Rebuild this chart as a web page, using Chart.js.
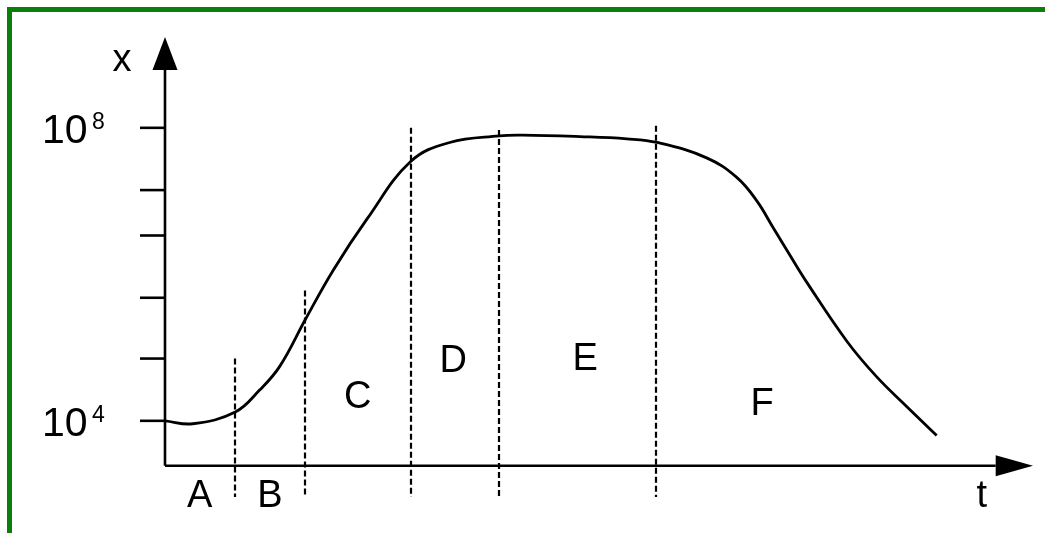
<!DOCTYPE html>
<html>
<head>
<meta charset="utf-8">
<title>Growth curve</title>
<script src="https://cdn.jsdelivr.net/npm/chart.js@4.4.1/dist/chart.umd.min.js"></script>
<style>
    body { margin: 0; background: #fff; }
    canvas { display: block; }
</style>
</head>
<body>
<canvas id="growthChart" width="1045" height="533"></canvas>
<script>
// Time (arbitrary units) and log10 of the population
const timeValues = [0, 3.2, 8.1, 10.9, 13.2, 16.2, 19.4, 23.3, 28.3, 32.8, 38.5, 41.2, 47.8, 53.2, 56.7, 62.4, 65.9, 68.2, 70.0, 72.0, 74.0, 78.6, 82.0, 85.5, 88.9];
const logCounts = [4.00, 3.96, 4.12, 4.42, 4.74, 5.39, 6.06, 6.76, 7.54, 7.80, 7.89, 7.90, 7.88, 7.85, 7.80, 7.59, 7.32, 7.00, 6.65, 6.26, 5.88, 5.08, 4.60, 4.19, 3.80];

// Tick marks on the x axis (log10 values); only 10^4 and 10^8 get labels
const tickValues = [4.0, 4.85, 5.68, 6.53, 7.15, 8.0];
const labelledTicks = [4, 8];

// Phase boundaries (time) and how high each dashed line reaches (log10)
const phaseBounds = [8.1, 16.1, 28.3, 38.5, 56.6];
const phaseTops = [4.85, 5.78, 8.0, 7.97, 8.03];

// Phase names with the point they are written at
const phaseNames = ['A', 'B', 'C', 'D', 'E', 'F'];
const phaseLabelT = [4.0, 12.1, 22.2, 33.2, 48.4, 68.8];
const phaseLabelY = [2.83, 2.83, 4.18, 4.67, 4.70, 4.08];

const Y_MIN = 2.96;
const Y_MAX = 9.24;
const AXIS_LEVEL = 3.386;   // where the time axis crosses
const ARROW_T = 95.7;       // start of the time arrow head
const ARROW_Y = 8.79;       // start of the x arrow head
const FONT = '"Liberation Sans", Arial, sans-serif';

const points = timeValues.map((t, i) => ({ x: t, y: logCounts[i] }));

// Frame, axes, ticks, phase lines and labels
const diagramPlugin = {
    id: 'diagram',
    beforeDraw(chart) {
        const c = chart.ctx;
        c.save();
        c.fillStyle = '#fff';
        c.fillRect(0, 0, chart.width, chart.height);
        c.fillStyle = '#0a800a';
        c.fillRect(7, 7, chart.width, 5);
        c.fillRect(7, 7, 5, chart.height);
        c.restore();
    },
    beforeDatasetsDraw(chart) {
        const c = chart.ctx;
        const xs = chart.scales.x;
        const ys = chart.scales.y;
        const x0 = xs.getPixelForValue(0);
        const yAxis = ys.getPixelForValue(AXIS_LEVEL);

        c.save();
        c.strokeStyle = '#000';
        c.fillStyle = '#000';

        // dashed phase boundaries
        c.lineWidth = 2.2;
        c.setLineDash([6, 3]);
        phaseBounds.forEach((t, i) => {
            const px = Math.round(xs.getPixelForValue(t));
            c.beginPath();
            c.moveTo(px, ys.getPixelForValue(phaseTops[i]));
            c.lineTo(px, ys.getPixelForValue(Y_MIN));
            c.stroke();
        });
        c.setLineDash([]);

        // axes
        c.lineWidth = 2.6;
        c.beginPath();
        c.moveTo(x0, yAxis);
        c.lineTo(x0, ys.getPixelForValue(ARROW_Y));
        c.moveTo(x0, yAxis);
        c.lineTo(xs.getPixelForValue(ARROW_T), yAxis);
        c.stroke();

        // arrow heads
        const tipY = ys.getPixelForValue(Y_MAX);
        const baseY = ys.getPixelForValue(ARROW_Y);
        c.beginPath();
        c.moveTo(x0, tipY);
        c.lineTo(x0 + 12.5, baseY);
        c.lineTo(x0 - 12.5, baseY);
        c.closePath();
        c.fill();

        const tipX = xs.getPixelForValue(100);
        const baseX = xs.getPixelForValue(ARROW_T);
        c.beginPath();
        c.moveTo(tipX, yAxis);
        c.lineTo(baseX, yAxis - 10.5);
        c.lineTo(baseX, yAxis + 10.5);
        c.closePath();
        c.fill();

        // ticks on the x axis
        tickValues.forEach(v => {
            const py = ys.getPixelForValue(v);
            c.beginPath();
            c.moveTo(x0 - 25, py);
            c.lineTo(x0, py);
            c.stroke();
        });

        // 10^n labels
        labelledTicks.forEach(v => {
            const py = ys.getPixelForValue(v);
            c.textAlign = 'left';
            c.textBaseline = 'alphabetic';
            c.font = '41px ' + FONT;
            c.fillText('10', x0 - 123, py + 15);
            c.font = '23px ' + FONT;
            c.fillText(String(v), x0 - 73, py + 1);
        });

        // axis names
        c.font = '38px ' + FONT;
        c.textAlign = 'center';
        c.fillText('x', x0 - 43, ys.getPixelForValue(8.78));
        c.fillText('t', xs.getPixelForValue(94.1), ys.getPixelForValue(2.83));

        // phase letters
        phaseNames.forEach((name, i) => {
            c.fillText(name, xs.getPixelForValue(phaseLabelT[i]), ys.getPixelForValue(phaseLabelY[i]));
        });
        c.restore();
    }
};

const ctx = document.getElementById('growthChart').getContext('2d');
const growthChart = new Chart(ctx, {
    type: 'line',
    data: {
        datasets: [{
            data: points,
            borderColor: '#000',
            borderWidth: 2.8,
            pointRadius: 0,
            fill: false,
            tension: 0.4,
            clip: false
        }]
    },
    options: {
        responsive: false,
        animation: false,
        devicePixelRatio: 1,
        layout: {
            padding: { left: 165, top: 37, right: 12, bottom: 36 }
        },
        plugins: {
            legend: { display: false },
            tooltip: { enabled: false }
        },
        scales: {
            x: { type: 'linear', min: 0, max: 100, display: false },
            y: { type: 'linear', min: Y_MIN, max: Y_MAX, display: false }
        }
    },
    plugins: [diagramPlugin]
});
</script>
</body>
</html>
